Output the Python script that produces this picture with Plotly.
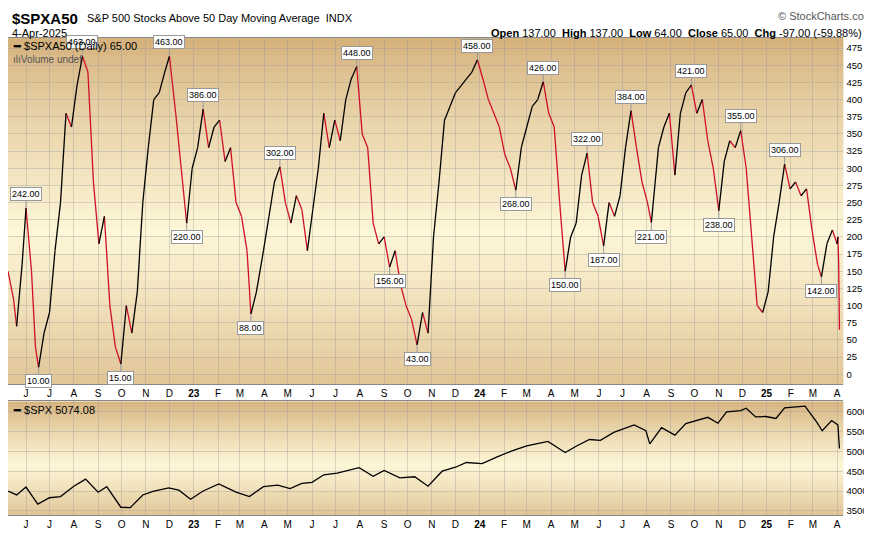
import plotly.graph_objects as go
import pandas as pd

a50_dates = ["2022-05-09","2022-05-16","2022-05-20","2022-05-27","2022-06-01","2022-06-08","2022-06-13","2022-06-17","2022-06-24","2022-07-01","2022-07-08","2022-07-15","2022-07-22","2022-07-29","2022-08-05","2022-08-12","2022-08-19","2022-08-26","2022-09-02","2022-09-09","2022-09-16","2022-09-23","2022-09-30","2022-10-07","2022-10-14","2022-10-21","2022-10-28","2022-11-04","2022-11-11","2022-11-18","2022-11-25","2022-12-01","2022-12-09","2022-12-16","2022-12-23","2022-12-30","2023-01-06","2023-01-13","2023-01-20","2023-01-27","2023-02-03","2023-02-10","2023-02-17","2023-02-24","2023-03-03","2023-03-10","2023-03-15","2023-03-22","2023-03-31","2023-04-07","2023-04-14","2023-04-21","2023-04-28","2023-05-05","2023-05-12","2023-05-19","2023-05-26","2023-06-02","2023-06-09","2023-06-16","2023-06-23","2023-06-30","2023-07-07","2023-07-14","2023-07-21","2023-07-28","2023-08-04","2023-08-11","2023-08-18","2023-08-25","2023-09-01","2023-09-08","2023-09-15","2023-09-22","2023-09-29","2023-10-06","2023-10-13","2023-10-20","2023-10-27","2023-11-03","2023-11-10","2023-11-17","2023-11-24","2023-12-01","2023-12-08","2023-12-15","2023-12-22","2023-12-29","2024-01-05","2024-01-12","2024-01-19","2024-01-26","2024-02-02","2024-02-09","2024-02-16","2024-02-23","2024-03-01","2024-03-08","2024-03-15","2024-03-22","2024-03-29","2024-04-05","2024-04-12","2024-04-19","2024-04-26","2024-05-03","2024-05-10","2024-05-17","2024-05-24","2024-05-31","2024-06-07","2024-06-14","2024-06-21","2024-06-28","2024-07-05","2024-07-12","2024-07-19","2024-07-26","2024-08-02","2024-08-07","2024-08-16","2024-08-23","2024-08-30","2024-09-06","2024-09-13","2024-09-20","2024-09-27","2024-10-04","2024-10-11","2024-10-18","2024-10-25","2024-11-01","2024-11-08","2024-11-15","2024-11-22","2024-11-29","2024-12-06","2024-12-13","2024-12-20","2024-12-27","2025-01-03","2025-01-10","2025-01-17","2025-01-24","2025-01-31","2025-02-07","2025-02-14","2025-02-21","2025-02-28","2025-03-07","2025-03-12","2025-03-19","2025-03-26","2025-04-01","2025-04-02","2025-04-03","2025-04-04"]
a50_values = [150,110,70,160,242,150,40,10,60,90,180,250,380,360,420,463,440,280,190,230,100,40,15,100,60,120,250,330,400,410,440,463,380,300,220,300,330,386,330,360,370,310,330,250,230,180,88,120,180,230,280,302,250,220,260,240,180,240,300,380,330,370,340,400,430,448,350,330,220,190,200,156,180,130,100,80,43,90,60,200,280,370,390,410,420,430,440,458,430,400,380,360,320,300,268,330,360,390,400,426,380,360,250,150,200,220,290,322,250,230,187,250,230,260,330,384,330,280,250,221,330,360,380,290,380,410,421,380,400,340,300,238,310,340,330,355,300,200,100,90,120,200,250,306,270,280,260,270,210,160,142,190,210,190,200,162,65]

spx_dates = ["2022-05-09","2022-05-20","2022-06-01","2022-06-16","2022-07-01","2022-07-15","2022-08-01","2022-08-16","2022-09-01","2022-09-12","2022-09-30","2022-10-12","2022-10-28","2022-11-10","2022-11-30","2022-12-13","2022-12-28","2023-01-13","2023-02-02","2023-02-24","2023-03-13","2023-03-31","2023-04-18","2023-05-04","2023-05-19","2023-06-01","2023-06-16","2023-07-03","2023-07-31","2023-08-18","2023-09-01","2023-09-21","2023-10-10","2023-10-27","2023-11-14","2023-12-01","2023-12-15","2024-01-04","2024-01-24","2024-02-12","2024-03-01","2024-03-28","2024-04-19","2024-05-03","2024-05-20","2024-06-03","2024-06-20","2024-07-16","2024-07-31","2024-08-05","2024-08-20","2024-09-06","2024-09-20","2024-10-18","2024-10-31","2024-11-11","2024-11-29","2024-12-06","2024-12-18","2024-12-31","2025-01-13","2025-01-24","2025-02-19","2025-03-06","2025-03-13","2025-03-25","2025-04-02","2025-04-03","2025-04-04"]
spx_values = [4000,3900,4100,3670,3830,3860,4120,4300,3970,4110,3590,3580,3900,3990,4080,4020,3790,4000,4180,3970,3860,4110,4150,4060,4190,4220,4410,4450,4590,4370,4520,4330,4360,4120,4500,4600,4720,4690,4870,5020,5140,5250,4970,5130,5300,5280,5480,5670,5520,5190,5600,5410,5700,5860,5710,6000,6030,6090,5870,5880,5830,6100,6140,5740,5520,5780,5670,5400,5074]

labels_dates = ["2022-06-01","2022-06-17","2022-08-12","2022-09-30","2022-12-01","2022-12-23","2023-01-13","2023-03-15","2023-04-21","2023-07-28","2023-09-08","2023-10-13","2023-12-29","2024-02-16","2024-03-22","2024-04-19","2024-05-17","2024-06-07","2024-07-12","2024-08-07","2024-09-27","2024-11-01","2024-11-29","2025-01-24","2025-03-12"]
labels_values = [242,10,463,15,463,220,386,88,302,448,156,43,458,268,426,150,322,187,384,221,421,238,355,306,142]
labels_peak = [1,0,1,0,1,0,1,0,1,1,0,0,1,0,1,0,1,0,1,0,1,0,1,1,0]

month_ticks = pd.date_range("2022-06-01", "2025-04-01", freq="MS")
month_text = [("<b>%02d</b>" % (d.year % 100)) if d.month == 1 else "JFMAMJJASOND"[d.month - 1] for d in month_ticks]

TOP = dict(x=[0, 0.958], y=[0.292, 0.944])
BOT = dict(x=[0, 0.958], y=[0.046, 0.259])

fig = go.Figure()

def band_color(t):
    tan = (214, 178, 125); cream = (253, 246, 215)
    w = 1 - abs(t - 0.55) / 0.55
    w = max(0, min(1, w)) ** 0.8
    c = [int(tan[i] + (cream[i] - tan[i]) * w) for i in range(3)]
    return "rgb(%d,%d,%d)" % tuple(c)

for dom in (TOP, BOT):
    n = 40
    y0, y1 = dom["y"]
    for i in range(n):
        fig.add_shape(type="rect", xref="paper", yref="paper", layer="below",
                      x0=dom["x"][0], x1=dom["x"][1],
                      y0=y1 - (y1 - y0) * (i + 1) / n - 0.001, y1=y1 - (y1 - y0) * i / n,
                      fillcolor=band_color(i / n), line=dict(width=0))

dts = pd.to_datetime(a50_dates)
ux, uy, dx, dy = [], [], [], []
for i in range(1, len(a50_values)):
    xs = [dts[i - 1], dts[i], None]; ys = [a50_values[i - 1], a50_values[i], None]
    if a50_values[i] >= a50_values[i - 1]:
        ux += xs; uy += ys
    else:
        dx += xs; dy += ys
fig.add_trace(go.Scatter(x=dx, y=dy, mode="lines", line=dict(color="#d0102a", width=1.3), hoverinfo="skip", xaxis="x", yaxis="y"))
fig.add_trace(go.Scatter(x=ux, y=uy, mode="lines", line=dict(color="black", width=1.3), hoverinfo="skip", xaxis="x", yaxis="y"))
fig.add_trace(go.Scatter(x=spx_dates, y=spx_values, mode="lines", line=dict(color="black", width=1.3), hoverinfo="skip", xaxis="x2", yaxis="y2"))

F = "Liberation Sans"
ann = []
for d, v, p in zip(labels_dates, labels_values, labels_peak):
    ann.append(dict(x=d, y=v, xref="x", yref="y", text="%.2f" % v, showarrow=True,
                    arrowhead=0, arrowcolor="#999", ax=0, ay=-14 if p else 14,
                    font=dict(size=9, color="black", family=F),
                    bgcolor="white", bordercolor="#999", borderwidth=1, borderpad=1))

ann += [
    dict(x=0.002, y=1.0, xref="paper", yref="paper", xanchor="left", yanchor="top", showarrow=False,
         text="<b>$SPXA50</b>", font=dict(size=15, family=F, color="black")),
    dict(x=0.088, y=0.997, xref="paper", yref="paper", xanchor="left", yanchor="top", showarrow=False,
         text="S&P 500 Stocks Above 50 Day Moving Average  INDX", font=dict(size=11, family=F, color="black")),
    dict(x=0.002, y=0.968, xref="paper", yref="paper", xanchor="left", yanchor="top", showarrow=False,
         text="4-Apr-2025", font=dict(size=11, family=F, color="black")),
    dict(x=0.994, y=1.0, xref="paper", yref="paper", xanchor="right", yanchor="top", showarrow=False,
         text="© StockCharts.com", font=dict(size=11, family=F, color="#555")),
    dict(x=0.994, y=0.968, xref="paper", yref="paper", xanchor="right", yanchor="top", showarrow=False,
         text="<b>Open</b> 137.00  <b>High</b> 137.00  <b>Low</b> 64.00  <b>Close</b> 65.00  <b>Chg</b> -97.00 (-59.88%)<span style='color:#c0102a'>▼</span>",
         font=dict(size=11, family=F, color="black")),
    dict(x=0.003, y=0.943, xref="paper", yref="paper", xanchor="left", yanchor="top", showarrow=False,
         text="<b>━</b> $SPXA50 (Daily) 65.00", font=dict(size=11, family=F, color="black")),
    dict(x=0.003, y=0.918, xref="paper", yref="paper", xanchor="left", yanchor="top", showarrow=False,
         text="ılıVolume undef", font=dict(size=10, family=F, color="#555")),
    dict(x=0.003, y=0.258, xref="paper", yref="paper", xanchor="left", yanchor="top", showarrow=False,
         text="<b>━</b> $SPX 5074.08", font=dict(size=11, family=F, color="black")),
]

xcommon = dict(range=["2022-05-09", "2025-04-09"], tickvals=list(month_ticks), ticktext=month_text,
               showgrid=True, gridcolor="rgba(150,150,150,0.35)", gridwidth=1, ticks="",
               tickfont=dict(size=10, family=F, color="black"), showline=True, linecolor="#888", mirror=True,
               zeroline=False, ticklabelstandoff=0)
fig.update_layout(
    width=872, height=533, margin=dict(l=0, r=0, t=0, b=0), paper_bgcolor="white",
    plot_bgcolor="rgba(0,0,0,0)", showlegend=False, annotations=ann,
    xaxis=dict(domain=TOP["x"], anchor="y", **xcommon),
    xaxis2=dict(domain=BOT["x"], anchor="y2", **xcommon),
    yaxis=dict(domain=TOP["y"], anchor="x", range=[-14, 490], side="right", tickvals=list(range(0, 476, 25)),
               showgrid=True, gridcolor="rgba(150,150,150,0.35)", zeroline=False, ticklabelstandoff=2,
               tickfont=dict(size=9.5, family=F, color="black")),
    yaxis2=dict(domain=BOT["y"], anchor="x2", range=[3405, 6260], side="right", tickvals=[3500, 4000, 4500, 5000, 5500, 6000],
                showgrid=True, gridcolor="rgba(150,150,150,0.35)", zeroline=False, ticklabelstandoff=2,
                tickfont=dict(size=9.5, family=F, color="black")),
)
fig.write_html("out.html")
